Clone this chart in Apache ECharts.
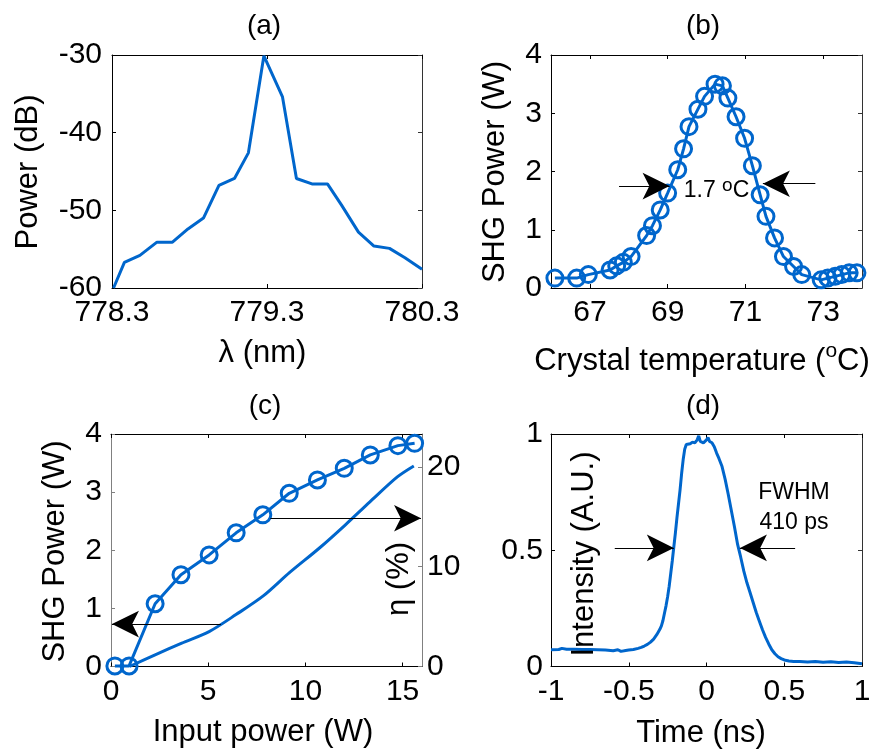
<!DOCTYPE html>
<html>
<head>
<meta charset="utf-8">
<script src="https://cdn.jsdelivr.net/npm/echarts@6/dist/echarts.min.js"></script>
<style>
html,body{margin:0;padding:0;background:#fff;}
#chart{width:871px;height:750px;}
</style>
</head>
<body>
<div id="chart"></div>
<script>
// ---------- (a) spectrum ----------
const wavelengthNm = [778.31, 778.38, 778.48, 778.59, 778.69, 778.79, 778.89, 778.99, 779.09, 779.18, 779.28, 779.40, 779.49, 779.59, 779.69, 779.78, 779.89, 779.99, 780.09, 780.19, 780.30];
const powerDb = [-60, -56.7, -55.8, -54.1, -54.1, -52.4, -51.0, -46.8, -45.9, -42.6, -30.1, -35.4, -45.9, -46.6, -46.6, -49.3, -52.8, -54.6, -54.9, -56.1, -57.6];
const ticksA_x = [778.3, 779.3, 780.3];
const ticksA_y = [-60, -50, -40, -30];

// ---------- (b) temperature tuning ----------
const crystalTemp = [66.10, 66.66, 66.96, 67.52, 67.69, 67.86, 68.06, 68.46, 68.61, 68.81, 69.00, 69.26, 69.41, 69.55, 69.78, 69.95, 70.22, 70.41, 70.55, 70.76, 70.98, 71.18, 71.38, 71.53, 71.75, 71.98, 72.24, 72.45, 72.95, 73.12, 73.31, 73.48, 73.67, 73.87];
const shgVsTemp = [0.17, 0.17, 0.23, 0.31, 0.38, 0.44, 0.54, 0.90, 1.07, 1.34, 1.63, 2.03, 2.39, 2.77, 3.07, 3.29, 3.50, 3.47, 3.26, 2.94, 2.57, 2.10, 1.60, 1.23, 0.86, 0.54, 0.37, 0.23, 0.14, 0.17, 0.20, 0.23, 0.26, 0.26];
const ticksB_x = [67, 69, 71, 73];
const ticksB_y = [0, 1, 2, 3, 4];

// ---------- (c) power scaling ----------
const inputPower = [0.20, 0.93, 2.27, 3.60, 5.05, 6.44, 7.81, 9.17, 10.62, 12.00, 13.34, 14.76, 15.62];
const shgVsInput = [0.01, 0.01, 1.08, 1.58, 1.92, 2.30, 2.61, 2.98, 3.21, 3.41, 3.64, 3.80, 3.84];
const etaInput = [0.95, 2.27, 3.64, 5.05, 6.43, 7.85, 9.18, 10.74, 12.06, 13.32, 14.73, 15.58];
const etaPercent = [0, 1.17, 2.34, 3.5, 5.2, 7.1, 9.4, 11.9, 14.2, 16.5, 19.0, 20.1];
const ticksC_x = [0, 5, 10, 15];
const ticksC_y = [0, 1, 2, 3, 4];
const ticksC_eta = [0, 10, 20];

// ---------- (d) pulse shape ----------
const timeNs = [-1.0, -0.95, -0.93, -0.9, -0.85, -0.8, -0.75, -0.7, -0.65, -0.6, -0.57, -0.55, -0.52, -0.5, -0.47, -0.44, -0.42, -0.40, -0.38, -0.36, -0.34, -0.32, -0.30, -0.29, -0.28, -0.27, -0.26, -0.25, -0.24, -0.23, -0.22, -0.21, -0.20, -0.19, -0.18, -0.17, -0.16, -0.15, -0.14, -0.13, -0.12, -0.105, -0.09, -0.075, -0.06, -0.05, -0.04, -0.03, -0.02, -0.01, 0.0, 0.01, 0.02, 0.035, 0.05, 0.065, 0.08, 0.10, 0.12, 0.14, 0.16, 0.18, 0.20, 0.22, 0.24, 0.26, 0.28, 0.30, 0.32, 0.34, 0.36, 0.38, 0.40, 0.42, 0.44, 0.46, 0.48, 0.50, 0.53, 0.56, 0.6, 0.65, 0.7, 0.75, 0.8, 0.85, 0.9, 0.95, 1.0];
const intensity = [0.072, 0.073, 0.078, 0.074, 0.074, 0.073, 0.073, 0.072, 0.071, 0.068, 0.072, 0.065, 0.069, 0.071, 0.073, 0.078, 0.082, 0.088, 0.095, 0.105, 0.118, 0.137, 0.160, 0.175, 0.198, 0.230, 0.262, 0.300, 0.345, 0.400, 0.455, 0.515, 0.575, 0.640, 0.700, 0.760, 0.830, 0.890, 0.935, 0.955, 0.962, 0.958, 0.965, 0.962, 0.975, 0.992, 0.968, 0.975, 0.962, 0.968, 0.975, 0.985, 0.968, 0.962, 0.945, 0.918, 0.895, 0.860, 0.805, 0.740, 0.670, 0.600, 0.525, 0.470, 0.410, 0.360, 0.318, 0.275, 0.232, 0.195, 0.158, 0.125, 0.097, 0.072, 0.055, 0.042, 0.034, 0.028, 0.024, 0.022, 0.021, 0.019, 0.021, 0.018, 0.020, 0.017, 0.019, 0.016, 0.012];
const ticksD_x = [-1, -0.5, 0, 0.5, 1];
const ticksD_y = [0, 0.5, 1];

// ---------- annotations (data coordinates) ----------
const arrowsB = [[[67.75, 1.75], [69.05, 1.75]], [[72.80, 1.79], [71.45, 1.79]]];
const arrowsC = [[[5.65, 0.73], [0.05, 0.73]], [[8.2, 2.55], [15.95, 2.55]]];
const arrowsD = [[[-0.59, 0.51], [-0.21, 0.51]], [[0.57, 0.51], [0.215, 0.51]]];

const FONT = 'Liberation Sans, Arial, sans-serif';
const BLUE = '#0066cc';
const FS_TICK = 30;
const FS_NAME = 31;

function zip(a, b) { return a.map((v, i) => [v, b[i]]); }

function axis(base, ticks, labelOpts, lineColor) {
  const lc = lineColor || '#000';
  const o = {
    type: 'value',
    splitLine: { show: false },
    axisLine: { show: true, onZero: false, lineStyle: { color: lc, width: 1 } },
    axisTick: { show: true, inside: true, length: 4, customValues: ticks, lineStyle: { color: lc, width: 1 } },
    axisLabel: { show: false }
  };
  if (labelOpts) {
    o.axisLabel = Object.assign({
      show: true, customValues: ticks, fontSize: FS_TICK, color: '#000', fontFamily: FONT
    }, labelOpts);
  }
  return Object.assign(o, base);
}

function arrowMarkLine(arrows) {
  return {
    silent: true,
    animation: false,
    symbol: ['none', 'arrow'],
    symbolSize: [20, 27],
    lineStyle: { color: '#000', width: 1, type: 'solid' },
    itemStyle: { color: '#000' },
    label: { show: false },
    emphasis: { disabled: true },
    data: arrows.map(a => [{ coord: a[0] }, { coord: a[1] }])
  };
}

const grids = [
  { left: 112, top: 55, width: 310, height: 233 },
  { left: 551, top: 55, width: 311, height: 233 },
  { left: 111, top: 434, width: 311, height: 232.5 },
  { left: 551, top: 434, width: 311, height: 232.5 }
].map(g => Object.assign({ outerBoundsMode: 'none', containLabel: false }, g));

const xAxes = [
  axis({ gridIndex: 0, position: 'bottom', min: 778.3, max: 780.3 }, ticksA_x, { margin: 10, formatter: v => v.toFixed(1) }),
  axis({ gridIndex: 0, position: 'top', min: 778.3, max: 780.3 }, ticksA_x),
  axis({ gridIndex: 1, position: 'bottom', min: 66, max: 74 }, ticksB_x, { margin: 10 }),
  axis({ gridIndex: 1, position: 'top', min: 66, max: 74 }, ticksB_x),
  axis({ gridIndex: 2, position: 'bottom', min: 0, max: 16 }, ticksC_x, { margin: 10 }),
  axis({ gridIndex: 2, position: 'top', min: 0, max: 16 }, ticksC_x),
  axis({ gridIndex: 3, position: 'bottom', min: -1, max: 1 }, ticksD_x, { margin: 10 }),
  axis({ gridIndex: 3, position: 'top', min: -1, max: 1 }, ticksD_x)
];

const yAxes = [
  axis({ gridIndex: 0, position: 'left', min: -60, max: -30 }, ticksA_y, { margin: 10 }),
  axis({ gridIndex: 0, position: 'right', min: -60, max: -30 }, ticksA_y, null, '#333'),
  axis({ gridIndex: 1, position: 'left', min: 0, max: 4 }, ticksB_y, { margin: 9 }),
  axis({ gridIndex: 1, position: 'right', min: 0, max: 4 }, ticksB_y, null, '#333'),
  axis({ gridIndex: 2, position: 'left', min: 0, max: 4 }, ticksC_y, { margin: 9 }, '#808080'),
  axis({ gridIndex: 2, position: 'right', min: 0, max: 23.3 }, ticksC_eta, { margin: 5 }, '#808080'),
  axis({ gridIndex: 3, position: 'left', min: 0, max: 1 }, ticksD_y, { margin: 8 }),
  axis({ gridIndex: 3, position: 'right', min: 0, max: 1 }, ticksD_y, null, '#333')
];

const circleStyle = {
  symbol: 'circle',
  symbolSize: 16,
  showSymbol: true,
  itemStyle: { color: 'rgba(0,0,0,0)', borderColor: BLUE, borderWidth: 3 }
};

const series = [
  {
    type: 'line', xAxisIndex: 0, yAxisIndex: 0, data: zip(wavelengthNm, powerDb),
    showSymbol: false, lineStyle: { color: BLUE, width: 3 }, itemStyle: { color: BLUE }
  },
  Object.assign({
    type: 'line', xAxisIndex: 2, yAxisIndex: 2, data: zip(crystalTemp, shgVsTemp),
    lineStyle: { color: BLUE, width: 3 }, markLine: arrowMarkLine(arrowsB)
  }, circleStyle),
  Object.assign({
    type: 'line', xAxisIndex: 4, yAxisIndex: 4, data: zip(inputPower, shgVsInput),
    lineStyle: { color: BLUE, width: 3 }, markLine: arrowMarkLine(arrowsC)
  }, circleStyle),
  {
    type: 'line', xAxisIndex: 4, yAxisIndex: 5, data: zip(etaInput, etaPercent),
    smooth: 0.3, showSymbol: false, lineStyle: { color: BLUE, width: 3 }, itemStyle: { color: BLUE }
  },
  {
    type: 'line', xAxisIndex: 6, yAxisIndex: 6, data: zip(timeNs, intensity),
    showSymbol: false, lineStyle: { color: BLUE, width: 3 }, itemStyle: { color: BLUE },
    markLine: arrowMarkLine(arrowsD)
  }
];

function txt(x, y, text, size, rot, align) {
  return {
    type: 'text', x: x, y: y, rotation: rot || 0, silent: true, z: 100,
    style: { text: text, fill: '#000', font: size + 'px ' + FONT, align: align || 'center', verticalAlign: 'middle' }
  };
}

// text with a superscript piece: pre + sup + post, centred on (cx, cy)
const measureCtx = document.createElement('canvas').getContext('2d');
function textWidth(t, size) { measureCtx.font = size + 'px ' + FONT; return measureCtx.measureText(t).width; }
function supText(cx, cy, pre, sup, post, size, supSize, raise) {
  const w1 = textWidth(pre, size), w2 = textWidth(sup, supSize), w3 = textWidth(post, size);
  const x0 = cx - (w1 + w2 + w3) / 2;
  return [
    txt(x0, cy, pre, size, 0, 'left'),
    txt(x0 + w1, cy - raise, sup, supSize, 0, 'left'),
    txt(x0 + w1 + w2, cy, post, size, 0, 'left')
  ];
}

const R = Math.PI / 2;

const graphics = [
  txt(264, 26.5, '(a)', 28),
  txt(703, 26.5, '(b)', 28),
  txt(265, 406.5, '(c)', 28),
  txt(703, 406.5, '(d)', 28),
  txt(28, 172, 'Power (dB)', FS_NAME, R),
  txt(262.5, 353, 'λ (nm)', FS_NAME),
  txt(495, 172, 'SHG Power (W)', FS_NAME, R),
  ...supText(702, 361, 'Crystal temperature (', 'o', 'C)', FS_NAME, 21, 9.5),
  txt(55, 551.5, 'SHG Power (W)', FS_NAME, R),
  txt(263, 732.5, 'Input power (W)', FS_NAME),
  txt(399, 579, 'η (%)', FS_NAME, R),
  txt(584, 554, 'Intensity (A.U.)', FS_NAME, R),
  txt(701, 733, 'Time (ns)', FS_NAME),
  ...supText(716.5, 191, '1.7 ', 'o', 'C', 23, 19, 5.5),
  txt(794, 493, 'FWHM', 23),
  txt(794, 523, '410 ps', 23)
];

const chart = echarts.init(document.getElementById('chart'), null, { renderer: 'canvas', width: 871, height: 750 });
chart.setOption({
  animation: false,
  backgroundColor: '#fff',
  textStyle: { fontFamily: FONT },
  grid: grids,
  xAxis: xAxes,
  yAxis: yAxes,
  series: series,
  graphic: graphics
});
</script>
</body>
</html>
